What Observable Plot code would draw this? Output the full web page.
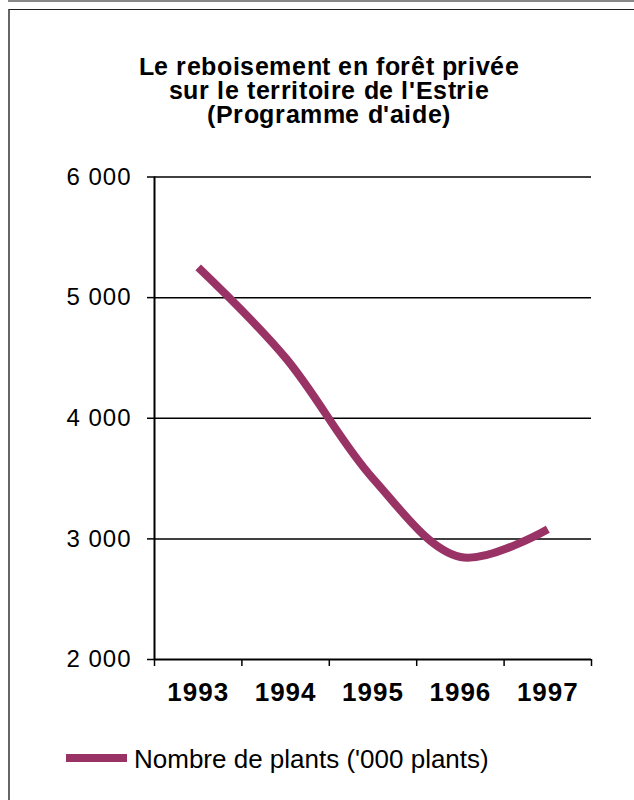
<!DOCTYPE html>
<html><head><meta charset="utf-8">
<script src="https://cdn.jsdelivr.net/npm/d3@7"></script>
<script src="https://cdn.jsdelivr.net/npm/@observablehq/plot@0.6"></script>
<style>
@font-face{font-family:"TitleSans";font-weight:bold;src:local("Liberation Sans Bold"),local("LiberationSans-Bold");ascent-override:80%;descent-override:15%;line-gap-override:0%;}
body{margin:0;background:#fff;font-family:"Liberation Sans",Arial,sans-serif;}
#wrap{position:relative;width:634px;height:800px;overflow:hidden;background:#fff;}
.topbar{position:absolute;left:8px;top:0;width:626px;height:2px;background:#888;}
.frame{position:absolute;left:8px;top:9px;width:700px;height:900px;border-top:1px solid #222;border-left:2px solid #666;box-sizing:border-box;}
#title{position:absolute;left:112px;top:55px;width:434px;text-align:center;font-family:"TitleSans","Liberation Sans",Arial,sans-serif;font-weight:bold;font-size:25px;line-height:24px;letter-spacing:0.6px;color:#000;}
#title div{height:24px;white-space:nowrap;}
#chart{position:absolute;left:0;top:150px;}
#chart svg g[aria-label="y-axis tick label"] text{letter-spacing:1px;}
#chart svg g[aria-label="x-axis tick label"] text{letter-spacing:1px;}
#legend{position:absolute;left:0;top:0;}
.sw{position:absolute;left:66px;top:754px;width:61px;height:8px;background:#993366;}
.lt{position:absolute;left:134px;top:746px;font-size:26px;line-height:26px;white-space:nowrap;color:#000;}
</style></head><body>
<div id="wrap">
 <div class="topbar"></div>
 <div class="frame"></div>
 <div id="title"><div>Le reboisement en forêt privée</div><div>sur le territoire de l'Estrie</div><div>(Programme d'aide)</div></div>
 <div id="chart"></div>
 <div id="legend"><span class="sw"></span><span class="lt" id="lt"></span></div>
</div>
<script>
const years = [1993, 1994, 1995, 1996, 1997];
const plants = [5250, 4500, 3500, 2850, 3080];
const yTicks = [2000, 3000, 4000, 5000, 6000];
const seriesName = "Nombre de plants ('000 plants)";

const data = years.map((y, i) => ({year: y, value: plants[i]}));
const boundaries = years.map(y => y - 0.5).concat([years[years.length - 1] + 0.5]);
const fmt = d => d3.format(",")(d).replace(/,/g, " ");

const chart = Plot.plot({
  width: 634, height: 570,
  marginLeft: 154, marginRight: 43, marginTop: 26.5, marginBottom: 61,
  style: {fontFamily: "Liberation Sans, Arial, sans-serif", fontSize: "24px", color: "#000", background: "transparent", overflow: "visible"},
  x: {domain: [boundaries[0], boundaries[boundaries.length - 1]]},
  y: {domain: [yTicks[0], yTicks[yTicks.length - 1]]},
  marks: [
    Plot.gridY(yTicks.slice(1), {stroke: "#000", strokeOpacity: 1, strokeWidth: 1.5}),
    Plot.axisY(yTicks, {tickSize: 7, tickPadding: 16, tickFormat: fmt, fontSize: 24, label: null, stroke: "#000", strokeWidth: 1.5}),
    Plot.axisX(years, {tickSize: 0, tickPadding: 23, tickFormat: d => String(d), fontWeight: "bold", fontSize: 26, label: null}),
    Plot.axisX(boundaries, {tickSize: 7, tickFormat: () => "", label: null, stroke: "#000", strokeWidth: 1.5}),
    Plot.ruleX([boundaries[0]], {stroke: "#000", strokeWidth: 2}),
    Plot.ruleY([yTicks[0]], {stroke: "#000", strokeWidth: 2}),
    Plot.line(data, {x: "year", y: "value", curve: "catmull-rom", stroke: "#993366", strokeWidth: 8, strokeLinecap: "butt", strokeLinejoin: "round"})
  ]
});
document.getElementById("chart").appendChild(chart);
document.getElementById("lt").textContent = seriesName;
</script>
</body></html>
